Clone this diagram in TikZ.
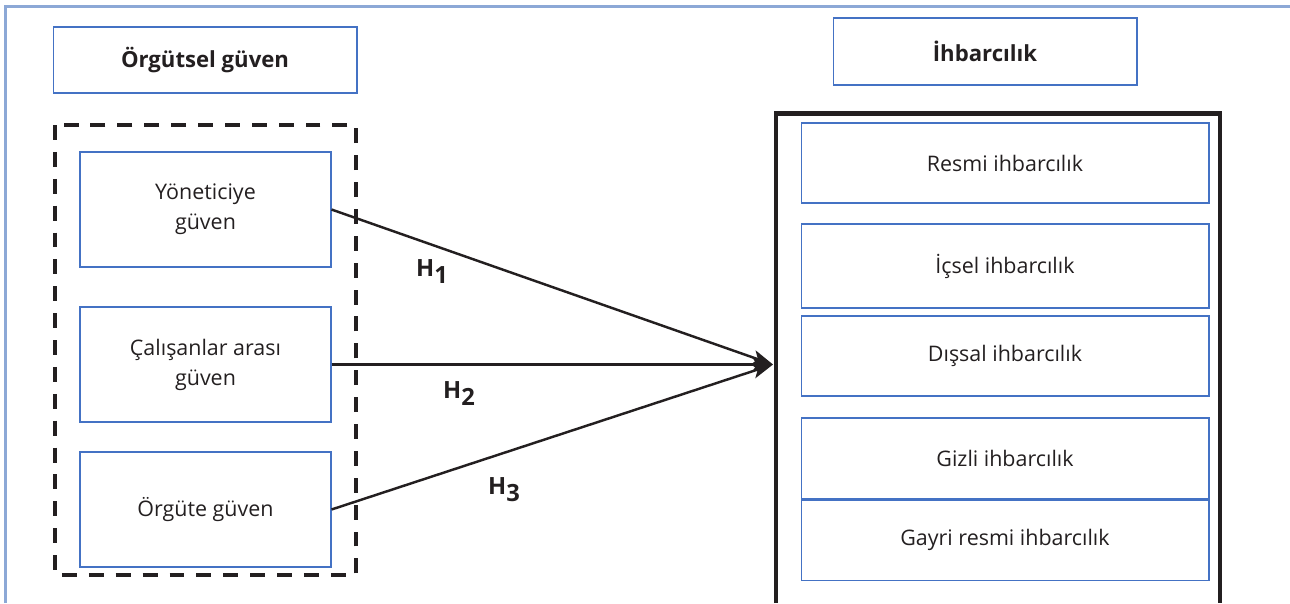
\documentclass[tikz,border=0pt]{standalone}
\usepackage{fontspec}
\setmainfont{Open Sans}
\usetikzlibrary{arrows.meta, positioning}

\definecolor{boxblue}{RGB}{68,114,196}
\definecolor{frameblue}{RGB}{140,168,214}
\definecolor{ink}{RGB}{35,31,32}

\newcommand{\hyp}[1]{H\raisebox{-4pt}{#1}}

\begin{document}
\begin{tikzpicture} [
		x=0.02cm, y=-0.02cm,
		node distance=0pt,
		every node/.style={text=ink, font=\fontsize{12.2}{17}\selectfont},
		box/.style={draw=boxblue, line width=0.6pt, align=center, inner sep=2pt},
		title/.style={box, minimum width=6.08cm, font=\fontsize{12.6}{17}\selectfont\bfseries},
		dimbox/.style={box, minimum width=5.02cm, minimum height=2.3cm},
		subbox/.style={box, minimum width=8.16cm, minimum height=1.6cm},
		hyparrow/.style={color=ink, line width=1.4pt, -{Stealth[length=0.42cm, width=0.3cm, inset=0.1cm]}},
		hlabel/.style={font=\fontsize{13.5}{14}\selectfont\bfseries}
	]

\useasboundingbox (0,0) rectangle (1290,603);
\draw[frameblue, line width=1.2pt] (5.5,603) |- (1290,6.5);

% titles
\node (ogut) [title, minimum height=1.32cm] at (205,60) {Örgütsel güven};
\node (ihbar) [title, minimum height=1.34cm] at (985,51.5) {İhbarcılık};

% trust dimensions
\draw[ink, line width=2.7pt, dash pattern=on 8.5pt off 6.8pt] (55,125) rectangle (356,575);
\node (yon) [dimbox] at (205.5,209.5) {Yöneticiye\\güven};
\node (calis) [dimbox] at (205.5,364.5) {Çalışanlar arası\\güven};
\node (orgut) [dimbox] at (205.5,509.5) {Örgüte güven};

% whistleblowing types
\draw[ink, line width=2.8pt] (776,603) |- (1220,113.5) -- (1220,603);
\node (resmi) [subbox] at (1005,163) {Resmi ihbarcılık};
\node (icsel) [subbox, minimum height=1.68cm] at (1005,266) {İçsel ihbarcılık};
\node (dissal) [subbox] at (1005,356) {Dışsal ihbarcılık};
\node (gizli) [subbox, minimum height=1.62cm] at (1005,458.5) {Gizli ihbarcılık};
\node (gayri) [subbox, below=of gizli] {Gayri resmi ihbarcılık};

\coordinate (tip) at (773,364.5);
\path[hyparrow]
	(yon.east) edge (tip)
	(calis.east) edge (tip)
	(orgut.east) edge (tip);

\node (h1) [hlabel] at (432,272) {\hyp{1}};
\node (h2) [hlabel] at (459,394) {\hyp{2}};
\node (h3) [hlabel] at (504,490) {\hyp{3}};
\end{tikzpicture}
\end{document}
